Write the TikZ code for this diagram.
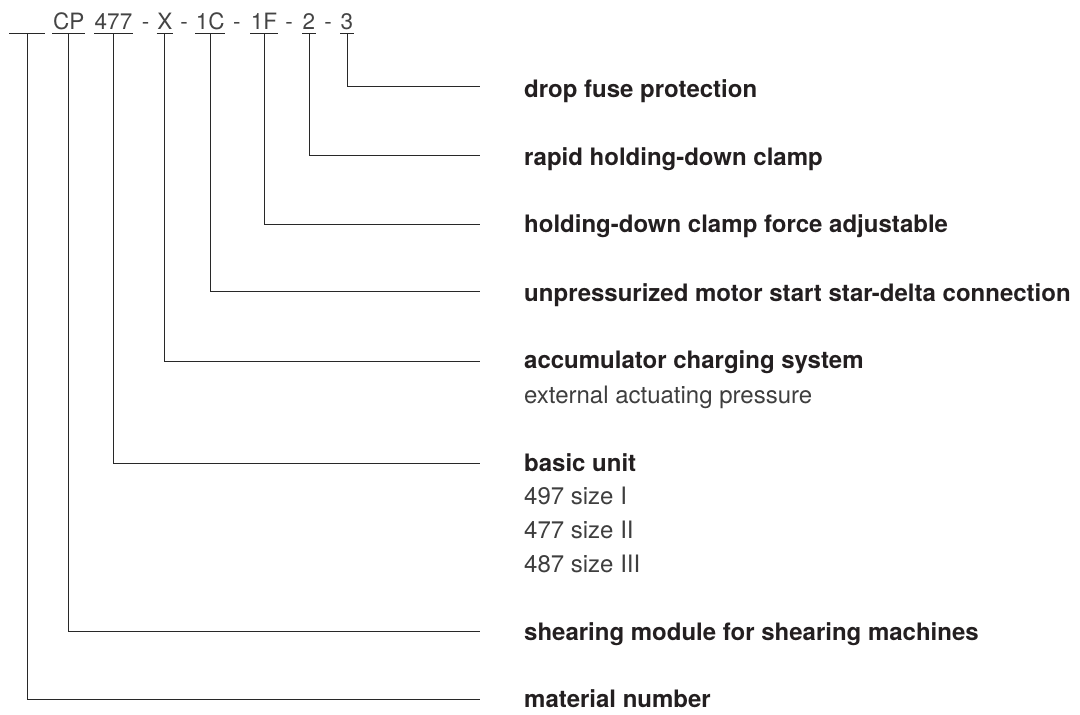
\documentclass[tikz,border=0pt]{standalone}
\usepackage{fontspec}
\setmainfont{TeX Gyre Heros}
\definecolor{codegray}{RGB}{68,68,68}
\definecolor{textdark}{RGB}{35,31,32}
\definecolor{textgray}{RGB}{62,62,62}
\definecolor{linegray}{RGB}{40,40,40}

\tikzset{
  codepart/.style={inner xsep=0.5pt, inner ysep=0pt, anchor=base, text=codegray,
    font=\fontsize{22.5}{26}\selectfont},
  title/.style={inner sep=0pt, anchor=base west, text=textdark,
    font=\fontsize{24}{28}\selectfont\bfseries},
  subline/.style={inner sep=0pt, anchor=base west, text=textgray,
    font=\fontsize{24}{28}\selectfont},
  rule/.style={linegray, line width=1pt},
}

\begin{document}
\begin{tikzpicture}[x=1pt, y=-1pt]
    \useasboundingbox (0,0) rectangle (1080,715);

    % Type code
    \node[codepart, minimum width=35pt] (mat) at (27,29.3) {};
    \node[codepart] (cp) at (68.7,29.3) {CP};
    \node[codepart] (num) at (113.5,29.3) {477};
    \node[codepart] (d1) at (145.5,29.3) {-};
    \node[codepart] (xx) at (164.8,29.3) {X};
    \node[codepart] (d2) at (184,29.3) {-};
    \node[codepart] (oc) at (210.3,29.3) {1C};
    \node[codepart] (d3) at (236.8,29.3) {-};
    \node[codepart] (of) at (264,29.3) {1F};
    \node[codepart] (d4) at (289,29.3) {-};
    \node[codepart] (tw) at (309,29.3) {2};
    \node[codepart] (d5) at (328,29.3) {-};
    \node[codepart] (th) at (347,29.3) {3};

    % Underlines
    \foreach \n in {mat,cp,num,xx,oc,of,tw,th}
        \draw[rule] ([yshift=-4pt]\n.base west) -- ([yshift=-4pt]\n.base east);

    % Meanings
    \node[title] (lth) at (524,97.7) {drop fuse protection};
    \node[title] (ltw) at (524,165) {rapid holding-down clamp};
    \node[title] (lof) at (524,232.3) {holding-down clamp force adjustable};
    \node[title] (loc) at (524,301) {unpressurized motor start star-delta connection};
    \node[title] (lxx) at (524,368) {accumulator charging system};
    \node[subline] (lxxa) at (524,403) {external actuating pressure};
    \node[title] (lnum) at (524,471) {basic unit};
    \node[subline] (lnuma) at (524,504) {497 size I};
    \node[subline] (lnumb) at (524,538) {477 size II};
    \node[subline] (lnumc) at (524,572) {487 size III};
    \node[title] (lcp) at (524,640) {shearing module for shearing machines};
    \node[title] (lmat) at (524,707.7) {material number};

    % Leader lines
    \foreach \n/\y in {th/86, tw/155.7, of/224, oc/291, xx/361, num/463.5, cp/631.7, mat/699.3} {
        \coordinate (e\n) at (480,\y);
        \draw[rule] ([yshift=-4pt]\n.base) |- (e\n);
    }
\end{tikzpicture}
\end{document}
